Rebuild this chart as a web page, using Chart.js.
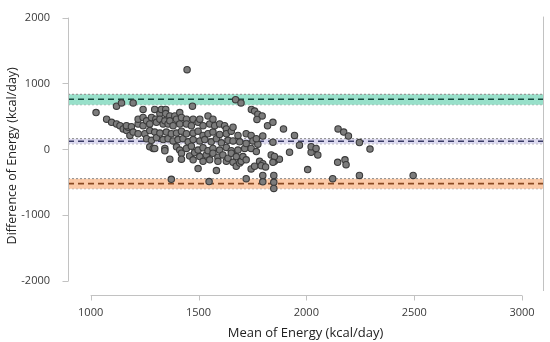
<!DOCTYPE html>
<html>
<head>
<meta charset="utf-8">
<script src="https://cdn.jsdelivr.net/npm/chart.js@4"></script>
<style>
  html, body { margin: 0; padding: 0; background: #fff; }
  #wrap { width: 550px; height: 342px; position: relative; }
</style>
</head>
<body>
<div id="wrap"><canvas id="ba"></canvas></div>
<script>
// Bland-Altman: mean vs difference of energy (kcal/day)

const xTicks = [1000, 1500, 2000, 2500, 3000];
const yTicks = [-2000, -1000, 0, 1000, 2000];

const meanEnergy = [
  1025, 1074, 1097, 1120, 1136, 1151, 1167, 1174, 1182, 1120, 1143, 1197, 1166, 1189, 1197, 1220,
  1220, 1220, 1243, 1243, 1243, 1251, 1259, 1259, 1274, 1274, 1274, 1282, 1282, 1290, 1297, 1297,
  1297, 1302, 1305, 1305, 1321, 1321, 1321, 1328, 1336, 1336, 1344, 1344, 1344, 1348, 1348, 1351,
  1359, 1359, 1367, 1367, 1367, 1374, 1374, 1382, 1382, 1390, 1398, 1398, 1398, 1405, 1413, 1413,
  1413, 1421, 1421, 1421, 1421, 1428, 1444, 1444, 1444, 1444, 1447, 1452, 1459, 1467, 1467, 1472,
  1475, 1475, 1475, 1475, 1482, 1498, 1498, 1498, 1498, 1506, 1506, 1506, 1521, 1521, 1521, 1521,
  1529, 1536, 1544, 1544, 1544, 1549, 1552, 1552, 1559, 1567, 1567, 1567, 1567, 1575, 1583, 1583,
  1590, 1590, 1598, 1598, 1598, 1606, 1613, 1621, 1629, 1629, 1629, 1629, 1637, 1637, 1652, 1652,
  1652, 1660, 1660, 1660, 1672, 1675, 1675, 1683, 1683, 1691, 1691, 1697, 1698, 1706, 1714, 1721,
  1721, 1721, 1721, 1744, 1744, 1744, 1745, 1752, 1760, 1760, 1768, 1775, 1775, 1783, 1795, 1798,
  1798, 1798, 1820, 1837, 1845, 1849, 1849, 1849, 1852, 1875, 1894, 1922, 1945, 1968, 2006, 2022,
  2022, 2045, 2053, 2122, 2145, 2147, 2173, 2179, 2184, 2195, 2246, 2246, 2295, 2495,
  1798, 1845, 1768, 1852, 1845, 1791, 1811, 1771
];
const diffEnergy = [
  558, 459, 410, 385, 360, 311, 286, 336, 212, 656, 705, 705, 360, 345, 262, 237,
  385, 459, 360, 484, 607, 237, 434, 163, 385, 286, 39, 484, 138, 15, 607, 262,
  15, 459, 410, 178, 543, 459, 247, 607, 385, 148, 434, 15, -19, 607, 543, 262,
  385, 163, 508, 434, -148, 237, -454, 360, 128, 508, 459, 247, 39, 148, 558, 385,
  -10, 484, 276, -59, -148, 163, 459, 385, 237, 15, 1209, 114, -99, 360, 49, 656,
  459, 247, 148, -158, -49, 410, 276, -10, -291, 459, 128, -109, 360, 212, 25, -182,
  148, -84, 508, 237, -19, -488, 385, -158, 114, 459, 262, 15, -59, 360, 163, -321,
  -118, -182, 385, 227, -10, 99, -84, 360, 311, 237, 30, -182, 138, -133, 276, -19,
  -59, 336, 128, -197, 755, -109, -256, 212, -10, 114, -207, 705, -182, -109, 15, 237,
  89, -158, -444, 212, 15, -296, 607, 128, 582, -256, -34, 533, 79, -182, 508, -217,
  -395, -493, 360, -84, 410, -395, -500, -592, -182, -148, 311, -44, 212, 64, -306, -44,
  40, 15, -84, -444, -197, 311, 262, -158, -232, 203, 104, -395, 4, -395,
  203, 110, 163, -108, -197, -247, -266, 454
];

// limits of agreement and bias, with their confidence bands
const bandCenter = [760, 124, -520];
const bandUpper = [836, 163, -444];
const bandLower = [678, 85, -597];
const bandFill = ['#98e0ca', '#dcd9f0', '#fbcaa8'];
const bandLine = ['#174a3e', '#3a3c66', '#8a4a22'];

const xMin = 895, xMax = 3097;
const yMin = -2210, yMax = 2015;

const FONT = "'Open Sans', 'Liberation Sans', sans-serif";

function hline(v, extra) {
  return Object.assign({
    type: 'line',
    data: [{ x: xMin, y: v }, { x: xMax, y: v }],
    pointRadius: 0,
    borderWidth: 1,
    fill: false,
  }, extra);
}

const datasets = [{
  label: 'Energy',
  data: meanEnergy.map((m, i) => ({ x: m, y: diffEnergy[i] })),
  backgroundColor: '#7c7c7c',
  borderColor: '#3b3b3b',
  borderWidth: 1.1,
  pointRadius: 3.2,
  order: 0,
}];

bandCenter.forEach((c, i) => {
  datasets.push(hline(c, { borderColor: bandLine[i], borderDash: [6, 4], borderWidth: 1.6, order: 1 }));
  datasets.push(hline(bandUpper[i], { borderColor: '#8a8a8a', borderDash: [2, 2], fill: '+1', backgroundColor: bandFill[i], order: 2 }));
  datasets.push(hline(bandLower[i], { borderColor: '#8a8a8a', borderDash: [2, 2], order: 2 }));
});

// offset axis lines drawn only between the first and last tick
const axisLines = {
  id: 'axisLines',
  afterDraw(chart) {
    const { ctx, chartArea: a, scales: { x, y } } = chart;
    ctx.save();
    ctx.strokeStyle = '#c2c2c2';
    ctx.lineWidth = 1;
    ctx.beginPath();
    const lx = Math.round(a.left) + 0.5;
    ctx.moveTo(lx, y.getPixelForValue(yTicks[0]));
    ctx.lineTo(lx, y.getPixelForValue(yTicks[yTicks.length - 1]));
    yTicks.forEach(v => {
      const py = Math.round(y.getPixelForValue(v)) + 0.5;
      ctx.moveTo(lx - 6, py);
      ctx.lineTo(lx, py);
    });
    const by = Math.round(a.bottom) + 0.5;
    ctx.moveTo(x.getPixelForValue(xTicks[0]), by);
    ctx.lineTo(x.getPixelForValue(xTicks[xTicks.length - 1]), by);
    xTicks.forEach(v => {
      const px = Math.round(x.getPixelForValue(v)) + 0.5;
      ctx.moveTo(px, by);
      ctx.lineTo(px, by + 5);
    });
    const rx = Math.round(a.right) + 0.5;
    ctx.moveTo(rx, a.top);
    ctx.lineTo(rx, a.bottom - 4);
    ctx.stroke();
    ctx.restore();
  }
};

new Chart(document.getElementById('ba'), {
  type: 'scatter',
  data: { datasets },
  options: {
    responsive: true, maintainAspectRatio: false, animation: false, devicePixelRatio: 1,
    layout: { padding: { top: 10, right: 7, left: 0, bottom: 0 } },
    plugins: { legend: { display: false }, tooltip: { enabled: false } },
    scales: {
      x: {
        type: 'linear', min: xMin, max: xMax,
        afterBuildTicks: s => { s.ticks = xTicks.map(v => ({ value: v })); },
        afterFit: s => { s.height = 47; },
        grid: { display: false }, border: { display: false },
        ticks: { color: '#3a3a3a', font: { family: FONT, size: 11 }, padding: 3, maxRotation: 0, callback: v => String(v) },
        title: { display: true, text: 'Mean of Energy (kcal/day)', color: '#222', font: { family: FONT, size: 13 }, padding: { top: 0, bottom: 1 } },
      },
      y: {
        type: 'linear', min: yMin, max: yMax,
        afterBuildTicks: s => { s.ticks = yTicks.map(v => ({ value: v })); },
        afterFit: s => { s.width = 68; },
        grid: { display: false }, border: { display: false },
        ticks: { color: '#3a3a3a', font: { family: FONT, size: 11 }, padding: 10, callback: v => String(v) },
        title: { display: true, text: 'Difference of Energy (kcal/day)', color: '#222', font: { family: FONT, size: 12.5 }, padding: { top: 5, bottom: 0 } },
      },
    },
  },
  plugins: [axisLines],
});
</script>
</body>
</html>
